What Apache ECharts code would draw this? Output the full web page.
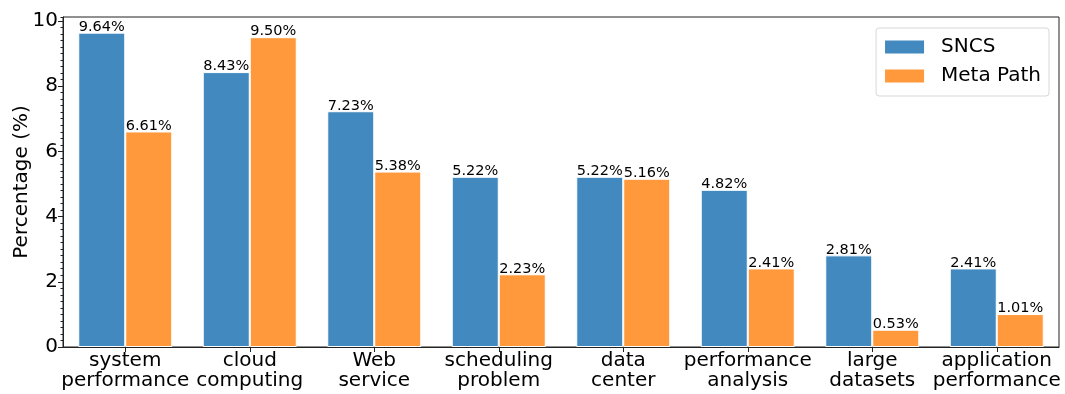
<!DOCTYPE html>
<html>
<head>
<meta charset="utf-8">
<script src="https://cdn.jsdelivr.net/npm/echarts@6/dist/echarts.min.js"></script>
<style>
  html, body { margin: 0; padding: 0; background: #fff; }
  #chart { width: 1065px; height: 394px; }
</style>
</head>
<body>
<div id="chart"></div>
<script>
// Topic categories (two-line labels) and the share of each method, in percent
const categories = [
  'system\nperformance', 'cloud\ncomputing', 'Web\nservice', 'scheduling\nproblem',
  'data\ncenter', 'performance\nanalysis', 'large\ndatasets', 'application\nperformance'
];
const sncs = [9.64, 8.43, 7.23, 5.22, 5.22, 4.82, 2.81, 2.41];
const metaPath = [6.61, 9.50, 5.38, 2.23, 5.16, 2.41, 0.53, 1.01];
const yTicks = [0, 2, 4, 6, 8, 10];
const yMax = 10.12;

const FONT = 'DejaVu Sans';
const BLUE = '#4189bf';
const ORANGE = '#ff993c';

const chart = echarts.init(document.getElementById('chart'), null, { renderer: 'canvas' });

const valueLabel = {
  show: true,
  position: 'top',
  distance: -2,
  fontFamily: FONT,
  fontSize: 14.5,
  color: '#000',
  formatter: p => p.value.toFixed(2) + '%'
};

chart.setOption({
  animation: false,
  backgroundColor: '#fff',
  textStyle: { fontFamily: FONT },
  grid: {
    left: 63, right: 6, top: 17, bottom: 47,
    outerBoundsMode: 'none',
    containLabel: false,
    show: true, borderColor: '#222', borderWidth: 1, backgroundColor: 'transparent'
  },
  legend: {
    orient: 'vertical',
    right: 16,
    top: 28,
    align: 'left',
    padding: [9, 8, 10, 9],
    itemWidth: 39,
    itemHeight: 13,
    itemGap: 9,
    borderColor: '#d8d8d8',
    borderWidth: 1,
    borderRadius: 3,
    backgroundColor: '#fff',
    icon: 'rect',
    itemStyle: { borderWidth: 0 },
    textStyle: { fontFamily: FONT, fontSize: 20, color: '#000', lineHeight: 20, padding: [0, 0, 0, 12] },
    data: ['SNCS', 'Meta Path']
  },
  xAxis: {
    type: 'category',
    data: categories,
    axisLine: { show: true, lineStyle: { color: '#222', width: 1 } },
    axisTick: { show: true, alignWithLabel: true, length: 5, lineStyle: { color: '#222' } },
    axisLabel: {
      interval: 0, margin: 4, fontFamily: FONT, fontSize: 20, lineHeight: 20, color: '#000'
    },
    splitLine: { show: false }
  },
  yAxis: [
    {
      type: 'value',
      min: 0,
      max: yMax,
      interval: 2,
      name: 'Percentage (%)',
      nameLocation: 'middle',
      nameGap: 31,
      nameMoveOverlap: false,
      nameTextStyle: { fontFamily: FONT, fontSize: 20, color: '#000' },
      axisLine: { show: true, lineStyle: { color: '#222', width: 1 } },
      axisTick: { show: true, length: 5, customValues: yTicks, lineStyle: { color: '#222' } },
      axisLabel: {
        customValues: yTicks, margin: 5, fontFamily: FONT, fontSize: 20, color: '#000'
      },
      splitLine: { show: false }
    },
    {
      // minor ticks every 0.2 on the same left edge
      type: 'value',
      position: 'left',
      min: 0,
      max: yMax,
      interval: 0.2,
      axisLine: { show: false },
      axisTick: { show: true, length: 2.5, lineStyle: { color: '#222' } },
      axisLabel: { show: false },
      splitLine: { show: false }
    }
  ],
  series: [
    {
      name: 'SNCS',
      type: 'bar',
      yAxisIndex: 0,
      data: sncs,
      barWidth: 47,
      barGap: '0%',
      itemStyle: { color: BLUE, borderColor: '#fff', borderWidth: 1 },
      label: valueLabel
    },
    {
      name: 'Meta Path',
      type: 'bar',
      yAxisIndex: 0,
      data: metaPath,
      barWidth: 47,
      barGap: '0%',
      itemStyle: { color: ORANGE, borderColor: '#fff', borderWidth: 1 },
      label: valueLabel
    }
  ]
});
</script>
</body>
</html>
